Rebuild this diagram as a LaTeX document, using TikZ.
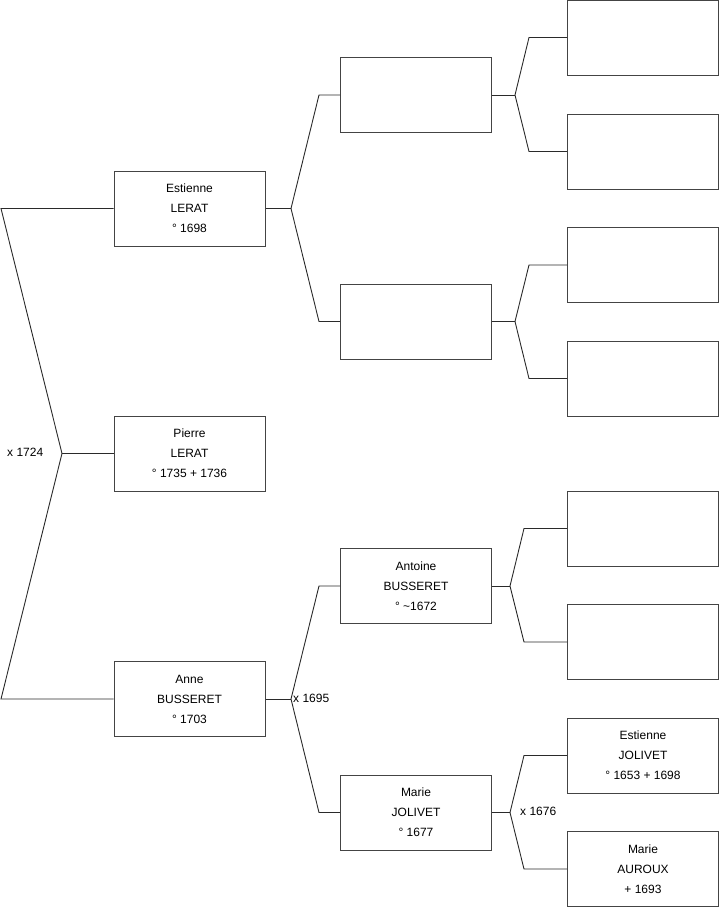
\documentclass[tikz,border=0pt]{standalone}
\usepackage{fontspec}
\setmainfont{Liberation Sans}
\usetikzlibrary{positioning}
\definecolor{my_boxgray}{HTML}{444444}
\definecolor{my_linegray}{HTML}{2A2A2A}

\begin{document}
\begin{tikzpicture}[
    x=1pt, y=-1pt,
    person/.style={draw=my_boxgray, line width=1pt, minimum width=151pt,
        minimum height=75pt, inner sep=0pt, align=center,
        font=\fontsize{12}{20}\selectfont},
    link/.style={draw=my_linegray, line width=0.9pt},
    union/.style={font=\fontsize{12}{14}\selectfont, inner sep=0pt, anchor=west}
]
\useasboundingbox (0,0) rectangle (719,908);

% --- Generation 1 ---
\node[person] (p_estienne) at (189.5,208.5) {Estienne\\LERAT\\° 1698};
\node[person] (p_pierre)   at (189.5,453.5) {Pierre\\LERAT\\° 1735 + 1736};
\node[person] (p_anne)     at (189.5,699)   {Anne\\BUSSERET\\° 1703};

% --- Generation 2 ---
\node[person] (p_gpa)     at (416,95)    {};
\node[person] (p_gma)     at (416,321.5) {};
\node[person] (p_antoine) at (416,586)   {Antoine\\BUSSERET\\° \textasciitilde1672};
\node[person] (p_marie)   at (416,812.5) {Marie\\JOLIVET\\° 1677};

% --- Generation 3 ---
\foreach \i/\y in {1/37.5, 2/151.5, 3/265, 4/378.5, 5/528.5, 6/642} {
    \node[person] (p_ggp\i) at (643,\y) {};
}
\node[person] (p_estjolivet) at (643,755.5) {Estienne\\JOLIVET\\° 1653 + 1698};
\node[person] (p_auroux)     at (643,869)   {Marie\\AUROUX\\+ 1693};

% --- Fork coordinates ---
\coordinate (f0)  at (62,453.5);
\coordinate (f0a) at (1,208.5);
\coordinate (f0b) at (1,699);
\coordinate (f1)  at (291,208.5);
\coordinate (f1a) at (319,95);
\coordinate (f1b) at (319,321.5);
\coordinate (f2)  at (291,699);
\coordinate (f2a) at (319,586);
\coordinate (f2b) at (319,812.5);
\coordinate (f3)  at (515,95);
\coordinate (f3a) at (529,37.5);
\coordinate (f3b) at (529,151.5);
\coordinate (f4)  at (515,321.5);
\coordinate (f4a) at (529,265);
\coordinate (f4b) at (529,378.5);
\coordinate (f5)  at (510,586);
\coordinate (f5a) at (524,528.5);
\coordinate (f5b) at (524,642);
\coordinate (f6)  at (510,812.5);
\coordinate (f6a) at (524,755.5);
\coordinate (f6b) at (524,869);

% --- Links ---
\draw[link] (p_estienne.west) -- (f0a) -- (f0) -- (f0b) -- (p_anne.west);
\draw[link] (f0) -- (p_pierre.west);

\draw[link] (p_estienne.east) -- (f1);
\draw[link] (p_gpa.west) -- (f1a) -- (f1) -- (f1b) -- (p_gma.west);

\draw[link] (p_anne.east) -- (f2);
\draw[link] (p_antoine.west) -- (f2a) -- (f2) -- (f2b) -- (p_marie.west);

\draw[link] (p_gpa.east) -- (f3);
\draw[link] (p_ggp1.west) -- (f3a) -- (f3) -- (f3b) -- (p_ggp2.west);

\draw[link] (p_gma.east) -- (f4);
\draw[link] (p_ggp3.west) -- (f4a) -- (f4) -- (f4b) -- (p_ggp4.west);

\draw[link] (p_antoine.east) -- (f5);
\draw[link] (p_ggp5.west) -- (f5a) -- (f5) -- (f5b) -- (p_ggp6.west);

\draw[link] (p_marie.east) -- (f6);
\draw[link] (p_estjolivet.west) -- (f6a) -- (f6) -- (f6b) -- (p_auroux.west);

% --- Mariages ---
\node[union] (u_1724) at (7,452)   {x 1724};
\node[union] (u_1695) at (293,698) {x 1695};
\node[union] (u_1676) at (520,811) {x 1676};

\end{tikzpicture}
\end{document}
